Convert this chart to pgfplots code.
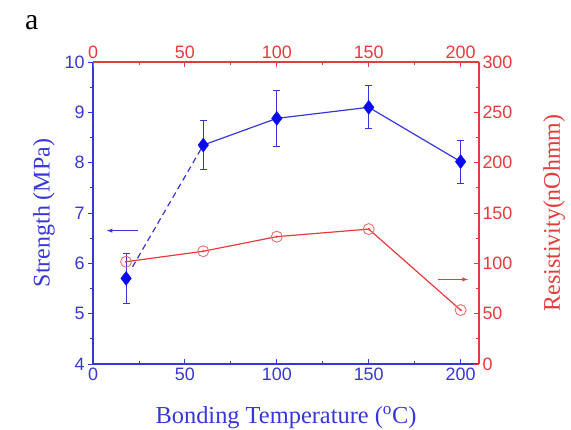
\documentclass[border=0pt]{standalone}
\usepackage{pgfplots}
\pgfplotsset{compat=1.18}
\usepackage{fontspec}
\setmainfont{Liberation Serif}
\newfontfamily\arial{Liberation Sans}
\definecolor{bl}{RGB}{55,55,215}
\definecolor{mk}{RGB}{10,10,240}
\definecolor{rd}{RGB}{228,60,60}
\begin{document}
\begin{tikzpicture}
\useasboundingbox (-93bp,-66bp) rectangle (478bp,364bp);
\pgfplotsset{every axis/.append style={
  scale only axis, width=386bp, height=302bp, xmin=0, xmax=210,
  /pgf/number format/assume math mode=true,
  tick label style={font=\fontsize{18}{18}\selectfont\arial},
  minor tick num=1,
  major tick length=5bp, minor tick length=3bp,
  xtick={0,50,100,150,200},
}}
\begin{axis}[
  axis x line*=bottom, axis y line*=left,
  ytick align=outside, xtick align=inside,
  ymin=4, ymax=10, ytick={4,5,6,7,8,9,10},
  axis line style={bl, line width=1.1pt},
  tick style={bl, line width=0.9pt},
  tick label style={text=bl},
  xlabel={Bonding Temperature ($^{\mathrm{o}}$C)},
  xlabel style={text=bl, yshift=-19bp, font=\fontsize{24.5}{24.5}\selectfont},
  ylabel={Strength (MPa)},
  ylabel style={text=bl, yshift=3bp, font=\fontsize{24}{24}\selectfont},
]
\addplot[bl, dash pattern=on 6bp off 4bp, line width=1.2pt, forget plot] coordinates {(21.5,5.93) (60,8.35)};
\addplot[bl, line width=1.2pt, mark=none] coordinates {(60,8.35) (100,8.88) (150,9.10) (200,8.02)};
\addplot[mk, only marks, mark=diamond*, mark size=7bp,
  error bars/.cd, y dir=both, y explicit,
  error bar style={color=bl, line width=0.9pt},
  error mark options={rotate=90, mark size=3.5bp, color=bl, line width=0.9pt}]
  coordinates {
  (18,5.70) +- (0,0.50)
  (60,8.35) +- (0,0.48)
  (100,8.88) +- (0,0.56)
  (150,9.10) +- (0,0.43)
  (200,8.02) +- (0,0.43)
};
\draw[bl, line width=0.9pt, -latex] (axis cs:24.5,6.65) -- (axis cs:7.5,6.65);
\end{axis}
\begin{axis}[
  axis x line*=top, axis y line*=right,
  tick align=inside,
  ymin=0, ymax=300, ytick={0,50,100,150,200,250,300},
  axis line style={rd, line width=1.1pt},
  tick style={rd, line width=0.9pt},
  tick label style={text=rd},
  ylabel={Resistivity(nOhmm)},
  ylabel style={text=rd, yshift=-24bp, font=\fontsize{24}{24}\selectfont},
]
\addplot[rd, line width=1.2pt, mark=o, mark size=5.5bp, mark options={rd!75, line width=0.9pt, fill=white}]
  coordinates {(18,101.6) (60,112) (100,126.5) (150,134) (200,53.6)};
\addplot[rd, only marks, mark=*, mark size=0.9bp]
  coordinates {(18,101.6) (60,112) (100,126.5) (150,134) (200,53.6)};
\draw[rd, line width=0.9pt, -latex] (axis cs:187.5,84) -- (axis cs:204,84);
\end{axis}
\node[anchor=base west, font=\fontsize{30}{30}\selectfont, inner sep=0pt] at (-68bp,334bp) {a};
\end{tikzpicture}
\end{document}
